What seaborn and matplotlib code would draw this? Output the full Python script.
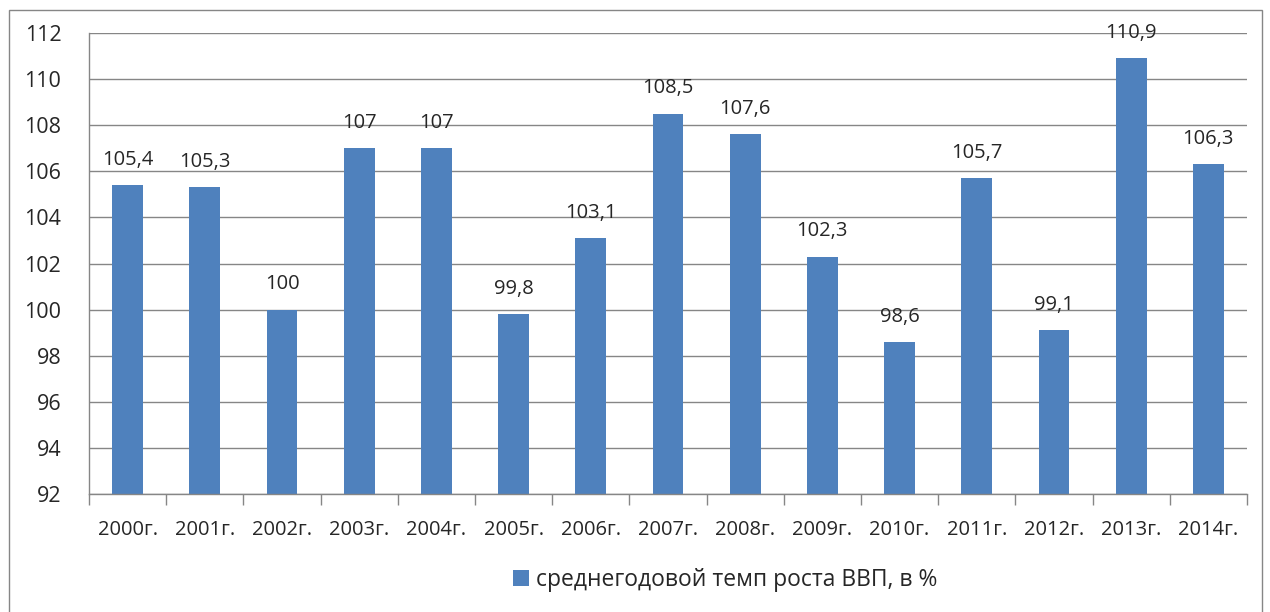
import matplotlib
matplotlib.use("Agg")
import matplotlib.pyplot as plt
import seaborn as sns
import pandas as pd
from matplotlib.patches import Rectangle

years = ["2000г.", "2001г.", "2002г.", "2003г.", "2004г.", "2005г.", "2006г.",
         "2007г.", "2008г.", "2009г.", "2010г.", "2011г.", "2012г.", "2013г.", "2014г."]
growth = [105.4, 105.3, 100, 107, 107, 99.8, 103.1,
          108.5, 107.6, 102.3, 98.6, 105.7, 99.1, 110.9, 106.3]
series_name = "среднегодовой темп роста ВВП, в %"

BAR_COLOR = "#4F81BD"
GRID_COLOR = "#868686"


def fmt(v):
    s = f"{v:g}"
    return s.replace(".", ",")


def main():
    df = pd.DataFrame({"year": years, "value": growth})

    sns.set_theme(style="white")
    plt.rcParams["font.family"] = ["Open Sans", "DejaVu Sans"]

    fig = plt.figure(figsize=(12.7, 6.12), dpi=100)
    ax = fig.add_axes([89 / 1270, 1 - 494 / 612, 1158 / 1270, 461 / 612])

    sns.barplot(data=df, x="year", y="value", color=BAR_COLOR, saturation=1,
                width=0.4, linewidth=0, ax=ax, legend=False)

    ax.set_ylim(92, 112)
    ax.set_yticks(range(92, 113, 2))
    ax.set_xlim(-0.5, len(years) - 0.5)
    ax.set_xlabel("")
    ax.set_ylabel("")

    ax.grid(axis="y", color=GRID_COLOR, linewidth=1)
    ax.set_axisbelow(True)
    for side in ["top", "right"]:
        ax.spines[side].set_visible(False)
    for side in ["left", "bottom"]:
        ax.spines[side].set_color(GRID_COLOR)
        ax.spines[side].set_linewidth(1)

    # y ticks pointing out, x ticks at category boundaries
    ax.tick_params(axis="y", which="major", direction="out", length=8,
                   color=GRID_COLOR, width=1, labelsize=15.5, pad=12)
    ax.tick_params(axis="x", which="major", length=0, labelsize=14.5, pad=19)
    ax.set_xticks([i - 0.5 for i in range(len(years) + 1)], minor=True)
    ax.tick_params(axis="x", which="minor", direction="out", length=8,
                   color=GRID_COLOR, width=1, bottom=True)

    for i, v in enumerate(growth):
        ax.annotate(fmt(v), (i, v), xytext=(0, 11), textcoords="offset points",
                    ha="center", va="bottom", fontsize=14.5)

    handles = [p for p in ax.patches[:1]]
    fig.legend(handles, [series_name], loc="center", bbox_to_anchor=(725 / 1270, 1 - 580 / 612),
               frameon=False, fontsize=16.5, handlelength=0.7, handleheight=0.7,
               handletextpad=0.3)

    border = Rectangle((9 / 1270, -0.05), 1253 / 1270, 1.05 - 10 / 612,
                       transform=fig.transFigure, fill=False,
                       edgecolor=GRID_COLOR, linewidth=1)
    fig.patches.append(border)

    fig.savefig("out.png", dpi=100)
    plt.close(fig)


if __name__ == "__main__":
    main()
